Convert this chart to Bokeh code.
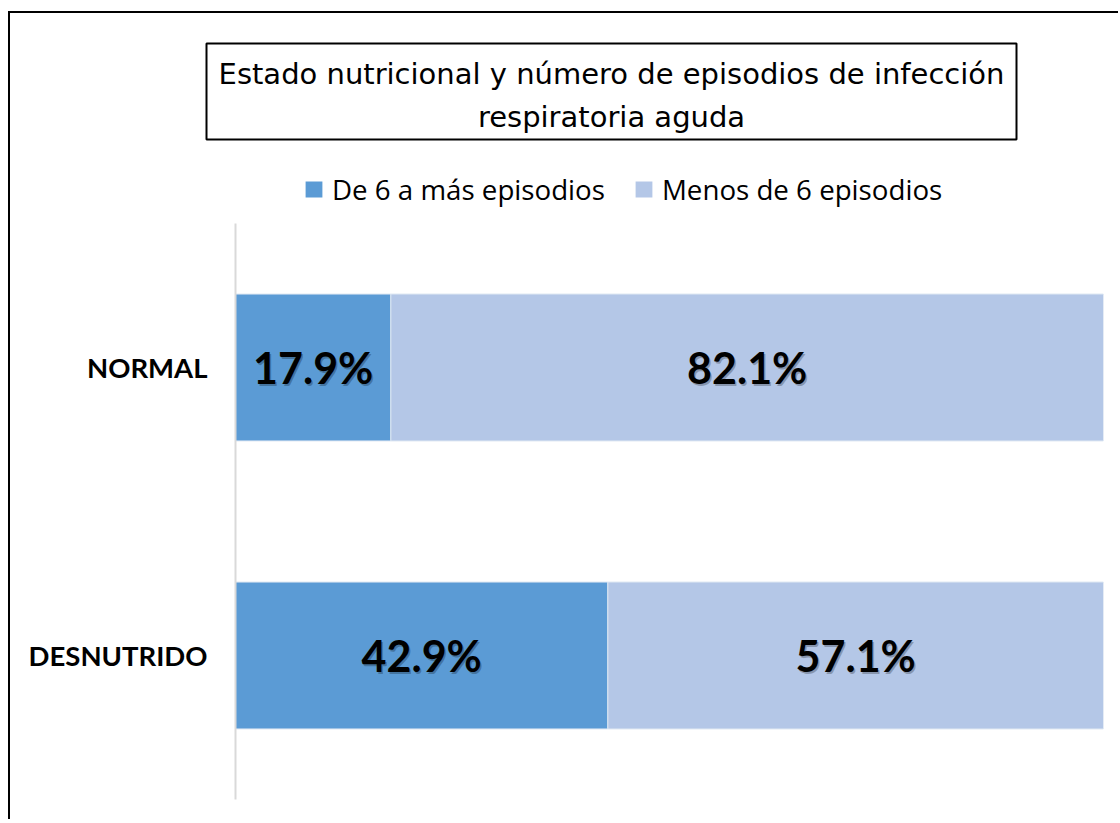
from bokeh.plotting import figure
from bokeh.layouts import column
from bokeh.models import ColumnDataSource, FactorRange, Range1d, LabelSet, Legend, LegendItem
from bokeh.core.properties import value
from bokeh.embed import file_html
from bokeh.resources import INLINE

# ---- data ----
categories = ["DESNUTRIDO", "NORMAL"]          # bottom to top
series_names = ["De 6 a más episodios", "Menos de 6 episodios"]
six_or_more = [42.9, 17.9]
less_than_six = [57.1, 82.1]
title_lines = ["Estado nutricional y número de episodios de infección", "respiratoria aguda"]

colors = ["#5B9BD5", "#B4C7E7"]

# ---------------- header (title box + legend) ----------------
HW, HH = 1110, 212
ox, oy = 10, 13   # page offset of content
h = figure(width=HW, height=HH, output_backend="svg", toolbar_location=None, title=None,
           x_range=Range1d(ox, ox + HW), y_range=Range1d(oy + HH, oy),
           x_axis_type=None, y_axis_type=None, frame_align=False,
           min_border_left=0, min_border_right=0, min_border_top=0, min_border_bottom=0,
           margin=(11, 0, 0, 8),
           styles={"border-top": "2px solid black", "border-left": "2px solid black"})
h.outline_line_color = None
h.grid.visible = False

h.quad(left=206, right=1016, top=43, bottom=139, fill_alpha=0, line_color="black", line_width=2)
h.text(x=[611, 611], y=[73, 116], text=title_lines, text_align="center", text_baseline="alphabetic",
       text_font=value("DejaVu Sans"), text_font_size="29px", text_color="black")

# legend swatches (off-canvas dummy renderers, only their legend glyphs are seen)
dsrc = ColumnDataSource(dict(x=[-500], y=[-500]))
d0 = h.rect(x="x", y="y", width=1, height=1, source=dsrc, color=colors[0], line_color=None)
d1 = h.rect(x="x", y="y", width=1, height=1, source=dsrc, color=colors[1], line_color=None)
legend = Legend(items=[LegendItem(label=series_names[0], renderers=[d0]),
                       LegendItem(label=series_names[1], renderers=[d1])],
                orientation="horizontal", location=(293, 17),
                glyph_width=21, glyph_height=20, label_standoff=8, spacing=28,
                padding=0, margin=0, border_line_color=None, background_fill_alpha=0,
                label_text_font="Open Sans", label_text_font_size="27.7px", label_text_color="black")
h.add_layout(legend, "center")

# ---------------- main bar chart ----------------
W, H = 1110, 596
p = figure(width=W, height=H, output_backend="svg", toolbar_location=None, title=None,
           y_range=FactorRange(factors=categories), x_range=Range1d(0, 100), frame_align=False,
           min_border_left=225, min_border_right=17, min_border_top=0, min_border_bottom=20,
           margin=(0, 0, 0, 8),
           styles={"border-left": "2px solid black"})
p.outline_line_color = None
p.xgrid.grid_line_color = None
p.ygrid.grid_line_color = None
p.xaxis.visible = False

src = ColumnDataSource(dict(cat=categories, a=six_or_more, b=less_than_six))
rs = p.hbar_stack(["a", "b"], y="cat", height=0.51, color=colors, source=src,
                  line_color="#DCE6F2", line_width=1)

ax = p.yaxis[0]
ax.axis_line_color = "#D9D9D9"
ax.axis_line_width = 2
ax.major_tick_line_color = None
ax.minor_tick_line_color = None
ax.major_tick_out = 0
ax.major_label_standoff = 28
ax.major_label_text_font = "Lato"
ax.major_label_text_font_style = "bold"
ax.major_label_text_font_size = "27.5px"
ax.major_label_text_color = "black"

lab = dict(cat=[], x=[], t=[])
for i, c in enumerate(categories):
    a, b = six_or_more[i], less_than_six[i]
    lab["cat"] += [c, c]
    lab["x"] += [a / 2, a + b / 2]
    lab["t"] += [f"{a:.1f}%", f"{b:.1f}%"]
lsrc = ColumnDataSource(lab)
p.add_layout(LabelSet(x="x", y="cat", text="t", source=lsrc, text_align="center", text_baseline="middle",
                      x_offset=1.5, y_offset=-1.5, text_color="black", text_alpha=0.25,
                      text_font=value("Lato"), text_font_style="bold", text_font_size="43px"))
p.add_layout(LabelSet(x="x", y="cat", text="t", source=lsrc, text_align="center", text_baseline="middle",
                      text_color="black", text_font=value("Lato"), text_font_style="bold",
                      text_font_size="43px"))

layout = column(h, p, spacing=0)
open("out.html", "w").write(file_html(layout, INLINE))
